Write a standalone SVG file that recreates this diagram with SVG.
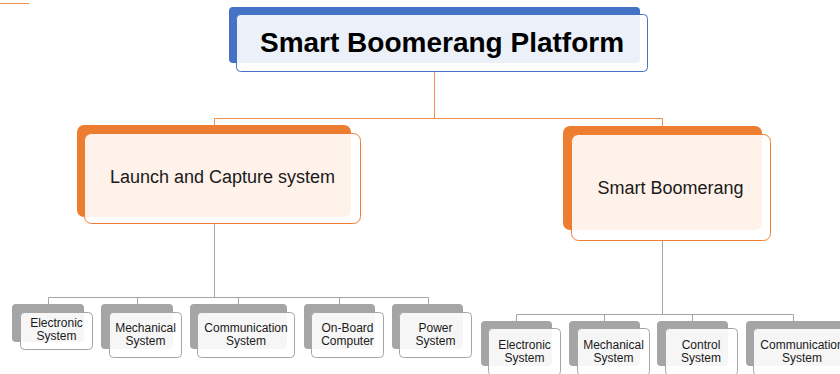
<svg xmlns="http://www.w3.org/2000/svg" width="840" height="374" viewBox="0 0 840 374">
<style>
.bg{fill:#fff}
.tb{fill:#4472c4}
.tf{fill:#fff;fill-opacity:0.9;stroke:#4472c4;stroke-width:1}
.ob{fill:#ed7d31}
.of{fill:#fff;fill-opacity:0.9;stroke:#ed7d31;stroke-width:1}
.gb{fill:#a5a5a5}
.gf{fill:#fff;fill-opacity:0.9;stroke:#a5a5a5;stroke-width:1}
.co{stroke:#ed7d31;stroke-width:1;fill:none;stroke-opacity:0.85}
.cg{stroke:#a5a5a5;stroke-width:1;fill:none}
text{font-family:"Liberation Sans",Arial,sans-serif;text-anchor:middle;fill:#1a1a1a}
.t0{font-size:28px;font-weight:bold;fill:#000}
.t1{font-size:18px}
.t2{font-size:12px}
</style>
<rect class="bg" x="0" y="0" width="840" height="374"/>
<g id="connectors">
<line class="co" x1="0" y1="3.5" x2="29" y2="3.5"/>
<polyline class="co" points="434.5,72 434.5,118.5"/>
<polyline class="co" points="214.5,126 214.5,118.5 662.5,118.5 662.5,127"/>
<polyline class="cg" points="214.5,224 214.5,297.5"/>
<polyline class="cg" points="48.5,305 48.5,297.5 428.5,297.5 428.5,305"/>
<line class="cg" x1="137.5" y1="297.5" x2="137.5" y2="305"/>
<line class="cg" x1="238.5" y1="297.5" x2="238.5" y2="305"/>
<line class="cg" x1="339.5" y1="297.5" x2="339.5" y2="305"/>
<polyline class="cg" points="662.5,241 662.5,314.5"/>
<polyline class="cg" points="516.5,322 516.5,314.5 793.5,314.5 793.5,322"/>
<line class="cg" x1="604.5" y1="314.5" x2="604.5" y2="322"/>
<line class="cg" x1="692.5" y1="314.5" x2="692.5" y2="322"/>
</g>
<g id="root">
<rect class="tb" x="229" y="7" width="411" height="56" rx="4"/>
<rect class="tf" x="236.5" y="14.5" width="411" height="57" rx="4"/>
<text class="t0" x="442" y="52">Smart Boomerang Platform</text>
</g>
<g id="launch">
<rect class="ob" x="77" y="125" width="274" height="92" rx="7"/>
<rect class="of" x="84.5" y="133.5" width="276" height="90" rx="7"/>
<text class="t1" x="222.5" y="183">Launch and Capture system</text>
</g>
<g id="boomerang">
<rect class="ob" x="563" y="126" width="199" height="104" rx="7"/>
<rect class="of" x="571.5" y="134.5" width="199" height="106" rx="7"/>
<text class="t1" x="670.5" y="194">Smart Boomerang</text>
</g>
<g id="l-electronic">
<rect class="gb" x="12" y="304" width="72" height="38" rx="4"/>
<rect class="gf" x="20.5" y="312.5" width="72" height="37" rx="4"/>
<text class="t2" x="56.5" y="327">Electronic</text>
<text class="t2" x="56.5" y="340">System</text>
</g>
<g id="l-mechanical">
<rect class="gb" x="101" y="304" width="72" height="45" rx="4"/>
<rect class="gf" x="109.5" y="312.5" width="72" height="45" rx="4"/>
<text class="t2" x="145.5" y="332">Mechanical</text>
<text class="t2" x="145.5" y="345">System</text>
</g>
<g id="l-communication">
<rect class="gb" x="190" y="304" width="97" height="45" rx="4"/>
<rect class="gf" x="197.5" y="312.5" width="97" height="45" rx="4"/>
<text class="t2" x="246" y="332">Communication</text>
<text class="t2" x="246" y="345">System</text>
</g>
<g id="l-onboard">
<rect class="gb" x="304" y="304" width="71" height="45" rx="4"/>
<rect class="gf" x="311.5" y="312.5" width="72" height="45" rx="4"/>
<text class="t2" x="347.5" y="332">On-Board</text>
<text class="t2" x="347.5" y="345">Computer</text>
</g>
<g id="l-power">
<rect class="gb" x="392" y="304" width="71" height="45" rx="4"/>
<rect class="gf" x="399.5" y="312.5" width="72" height="45" rx="4"/>
<text class="t2" x="435.5" y="332">Power</text>
<text class="t2" x="435.5" y="345">System</text>
</g>
<g id="r-electronic">
<rect class="gb" x="481" y="321" width="71" height="45" rx="4"/>
<rect class="gf" x="488.5" y="328.5" width="72" height="47" rx="4"/>
<text class="t2" x="524.5" y="349">Electronic</text>
<text class="t2" x="524.5" y="362">System</text>
</g>
<g id="r-mechanical">
<rect class="gb" x="569" y="321" width="71" height="45" rx="4"/>
<rect class="gf" x="577.5" y="328.5" width="72" height="47" rx="4"/>
<text class="t2" x="613.5" y="349">Mechanical</text>
<text class="t2" x="613.5" y="362">System</text>
</g>
<g id="r-control">
<rect class="gb" x="657" y="321" width="71" height="45" rx="4"/>
<rect class="gf" x="665.5" y="328.5" width="72" height="47" rx="4"/>
<text class="t2" x="701" y="349">Control</text>
<text class="t2" x="701" y="362">System</text>
</g>
<g id="r-communication">
<rect class="gb" x="746" y="321" width="97" height="45" rx="4"/>
<rect class="gf" x="753.5" y="328.5" width="98" height="47" rx="4"/>
<text class="t2" x="802" y="349">Communication</text>
<text class="t2" x="802" y="362">System</text>
</g>
</svg>
